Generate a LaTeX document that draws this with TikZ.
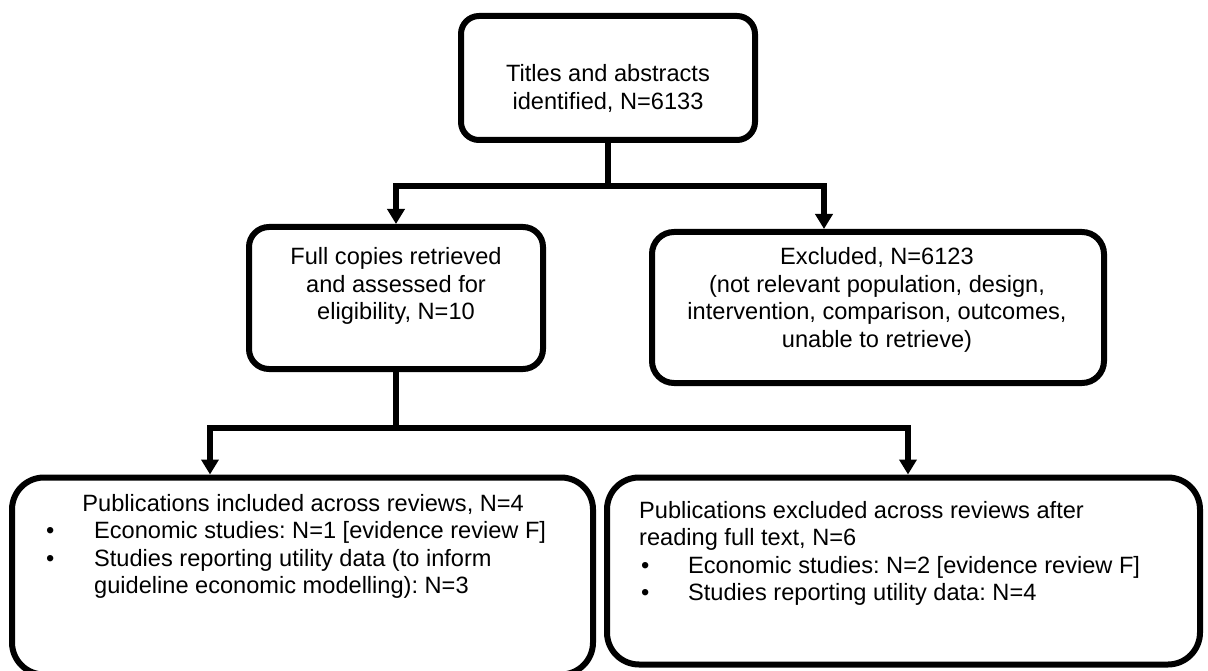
\documentclass[tikz,border=0pt]{standalone}
\usepackage{fontspec}
\setmainfont{Liberation Sans}
\usetikzlibrary{arrows.meta}
\frenchspacing
\tikzset{
  box/.style={draw=black, line width=6pt, inner sep=0pt, minimum width=#1},
  conn/.style={draw=black, line width=6pt},
  arr/.style={conn, -{Triangle[length=15pt,width=17pt]}},
  txt/.style={inner sep=0pt, anchor=base west, font=\fontsize{23.6}{27.5}\selectfont\frenchspacing},
  ctxt/.style={inner sep=0pt, anchor=base, font=\fontsize{23.6}{27.5}\selectfont\frenchspacing}
}
\newcommand{\bul}[1]{\makebox[#1][l]{\hspace*{1pt}\textbullet}}
\begin{document}
\begin{tikzpicture}[x=1pt,y=-1pt]
\useasboundingbox (0,0) rectangle (1208,671);
\fill[white] (0,0) rectangle (1208,671);
\clip (0,0) rectangle (1208,671);
% boxes
\node[box=294pt, minimum height=124pt, rounded corners=18pt] (b1) at (608,78) {};
\node[box=294pt, minimum height=142pt, rounded corners=20pt] (b2) at (396,298) {};
\node[box=452pt, minimum height=151pt, rounded corners=22pt] (b3) at (878,307.5) {};
\node[box=581pt, minimum height=197pt, rounded corners=32pt] (b4) at (302.5,576) {};
\node[box=593pt, minimum height=187pt, rounded corners=32pt] (b5) at (903.5,571) {};
% texts
\node[ctxt] (t1) at (608,82) {\parbox[t]{280pt}{\centering Titles and abstracts\\identified, N=6133}};
\node[ctxt] (t2) at (396,265) {\parbox[t]{280pt}{\centering Full copies retrieved\\and assessed for\\eligibility, N=10}};
\node[ctxt] (t3) at (877,265) {\parbox[t]{440pt}{\centering Excluded, N=6123\\(not relevant population, design,\\intervention, comparison, outcomes,\\unable to retrieve)}};
\node[txt] (t4) at (45,511) {\parbox[t]{540pt}{\raggedright
  \hspace*{258pt}\makebox[0pt]{Publications included across reviews, N=4}\\
  \bul{49pt}Economic studies: N=1 [evidence review F]\\
  \bul{49pt}Studies reporting utility data (to inform\\
  \hspace*{49pt}guideline economic modelling): N=3}};
\node[txt] (t5) at (639,518) {\parbox[t]{550pt}{\raggedright
  Publications excluded across reviews after\\
  reading full text, N=6\\
  \hspace*{1pt}\bul{48pt}Economic studies: N=2 [evidence review F]\\
  \hspace*{1pt}\bul{48pt}Studies reporting utility data: N=4}};
% connectors
\coordinate (j1) at (608,186);
\draw[conn] (b1.south) -- (j1);
\draw[arr] (j1) -| (b2.north);
\draw[arr] (j1) -| ([xshift=-54pt]b3.north);
\coordinate (j2) at (396,428);
\draw[conn] (b2.south) -- (j2);
\draw[arr] (j2) -| ([xshift=-92.5pt]b4.north);
\draw[arr] (j2) -| ([xshift=4.5pt]b5.north);
\end{tikzpicture}
\end{document}
